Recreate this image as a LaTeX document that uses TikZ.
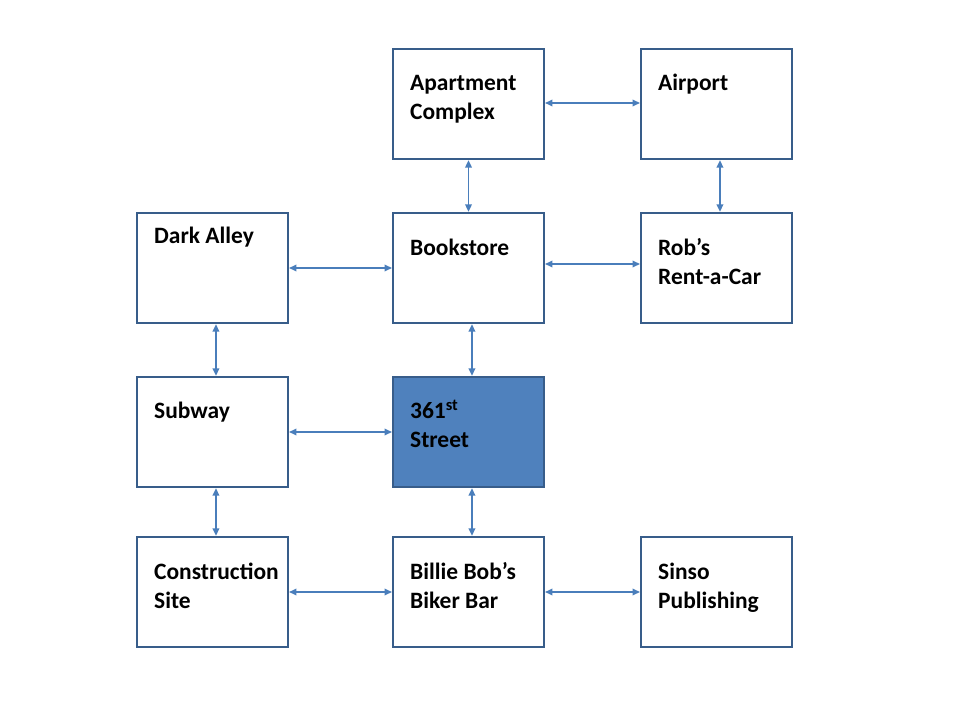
\documentclass[tikz,border=0pt]{standalone}
\usepackage{fontspec}
\setmainfont{Carlito}
\usetikzlibrary{arrows.meta,positioning}
\definecolor{boxline}{HTML}{385D8A}
\definecolor{boxfill}{HTML}{4F81BD}
\definecolor{linkblue}{HTML}{4A7EBB}
\tikzset{
	place/.style={draw=boxline, line width=1.9pt, minimum width=113pt, minimum height=82.5pt, inner sep=0pt},
	here/.style={place, fill=boxfill},
	placename/.style={anchor=base west, align=left, inner sep=0pt, font=\fontsize{17.6}{21.75}\selectfont\bfseries},
	link/.style={draw=linkblue, line width=1pt, {Triangle[length=5.5pt,width=5pt]}-{Triangle[length=5.5pt,width=5pt]}}
}
\begin{document}
\begin{tikzpicture}[x=0.75pt,y=-0.75pt]
	\useasboundingbox (0,0) rectangle (960,720);
	\node[place] (apt) at (468.5,104) {};
	\node[place] (air) at (716.5,104) {};
	\node[place] (alley) at (212.5,268) {};
	\node[place] (book) at (468.5,268) {};
	\node[place] (rob) at (716.5,268) {};
	\node[place] (subway) at (212.5,432) {};
	\node[here] (street) at (468.5,432) {};
	\node[place] (site) at (212.5,592) {};
	\node[place] (bar) at (468.5,592) {};
	\node[place] (sinso) at (716.5,592) {};
	% base anchor sits on the last line
	\node[placename] (aptname) at ([shift={(18,72)}]apt.north west) {Apartment\\Complex};
	\node[placename] (airname) at ([shift={(18,43)}]air.north west) {Airport};
	\node[placename] (alleyname) at ([shift={(18,32)}]alley.north west) {Dark Alley};
	\node[placename] (bookname) at ([shift={(18,44)}]book.north west) {Bookstore};
	\node[placename] (robname) at ([shift={(18,73)}]rob.north west) {Rob’s\\Rent-a-Car};
	\node[placename] (subwayname) at ([shift={(18,43)}]subway.north west) {Subway};
	\node[placename] (streetname) at ([shift={(18,72)}]street.north west) {361\textsuperscript{st}\\Street};
	\node[placename] (sitename) at ([shift={(18,73)}]site.north west) {Construction\\Site};
	\node[placename] (barname) at ([shift={(18,73)}]bar.north west) {Billie Bob’s\\Biker Bar};
	\node[placename] (sinsoname) at ([shift={(18,73)}]sinso.north west) {Sinso\\Publishing};
	\draw[link] ([yshift=0.75pt]apt.east) -- ([yshift=0.75pt]air.west);
	\draw[link] (apt.south) -- (book.north);
	\draw[link] ([xshift=2.6pt]air.south) -- ([xshift=2.6pt]rob.north);
	\draw[link] (alley.east) -- (book.west);
	\draw[link] ([yshift=3pt]book.east) -- ([yshift=3pt]rob.west);
	\draw[link] ([xshift=2.6pt]alley.south) -- ([xshift=2.6pt]subway.north);
	\draw[link] ([xshift=2.6pt]book.south) -- ([xshift=2.6pt]street.north);
	\draw[link] (subway.east) -- (street.west);
	\draw[link] ([xshift=2.6pt]subway.south) -- ([xshift=2.6pt]site.north);
	\draw[link] ([xshift=2.6pt]street.south) -- ([xshift=2.6pt]bar.north);
	\draw[link] (site.east) -- (bar.west);
	\draw[link] (bar.east) -- (sinso.west);
\end{tikzpicture}
\end{document}
